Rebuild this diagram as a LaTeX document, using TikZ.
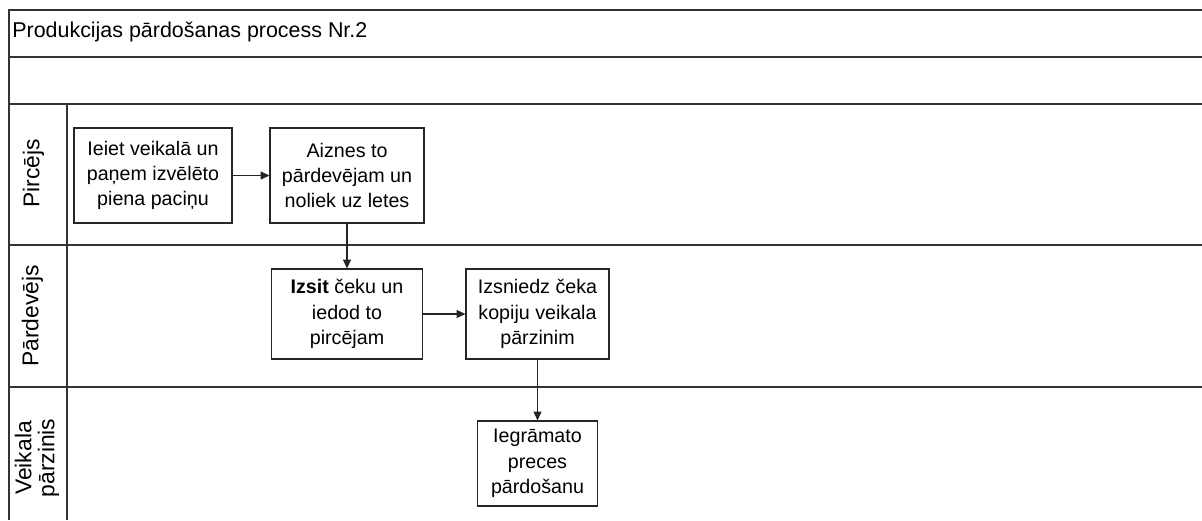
\documentclass[tikz,border=0pt]{standalone}
\usepackage{fontspec}
\setmainfont{Liberation Sans}
\usetikzlibrary{arrows.meta}

\begin{document}
\begin{tikzpicture}[x=0.02cm, y=-0.02cm,
    lane/.style={draw=black!80, line width=1.1pt},
    lanetext/.style={rotate=90, align=center, inner sep=0pt, font=\fontsize{13}{13}\selectfont},
    box/.style={draw=black!85, line width=0.6pt, align=center, inner sep=0pt,
      font=\fontsize{11.2}{14.4}\selectfont},
    flow/.style={draw=black!85, line width=0.6pt, -{Triangle[length=5pt,width=4.5pt]}}]
      \useasboundingbox (0,0) rectangle (1202,520);

      % frame of the pool
      \draw[lane] (1202,10) -- (9,10) -- (9,520);
      \foreach \y in {57,104,245,387}
        \draw[lane] (9,\y) -- (1202,\y);
      \draw[lane] (67,104) -- (67,520);

      \node[anchor=base west, inner sep=0pt, font=\fontsize{12.2}{14.2}\selectfont] (title) at (12,37.3) {Produkcijas pārdošanas process Nr.2};

      % lanes
      \node[lanetext, anchor=base] (pircejs) at (39.3,173.5) {Pircējs};
      \node[lanetext, anchor=base] (pardevejs) at (38.3,316) {Pārdevējs};
      \node[lanetext] (parzinis) at (37,458) {Veikala\\pārzinis};

      % steps
      \node[box, minimum width=3.16cm, minimum height=1.9cm] (ieiet) at (153,175.5) {Ieiet veikalā un\\paņem izvēlēto\\piena paciņu};
      \node[box, minimum width=3.08cm, minimum height=1.9cm] (aiznes) at (347,175.5) {Aiznes to\\pārdevējam un\\noliek uz letes};
      \node[box, minimum width=3.02cm, minimum height=1.8cm] (izsit) at (347,314) {\textbf{Izsit} čeku un\\iedod to\\pircējam};
      \node[box, minimum width=2.86cm, minimum height=1.8cm] (izsniedz) at (537.5,314) {Izsniedz čeka\\kopiju veikala\\pārzinim};
      \node[box, minimum width=2.4cm, minimum height=1.7cm] (iegramato) at (537.5,463.5) {Iegrāmato\\preces\\pārdošanu};

      \draw[flow] (ieiet) -- (aiznes);
      \draw[flow] (aiznes) -- (izsit);
      \draw[flow] (izsit) -- (izsniedz);
      \draw[flow] (izsniedz) -- (iegramato);
    \end{tikzpicture}
\end{document}
